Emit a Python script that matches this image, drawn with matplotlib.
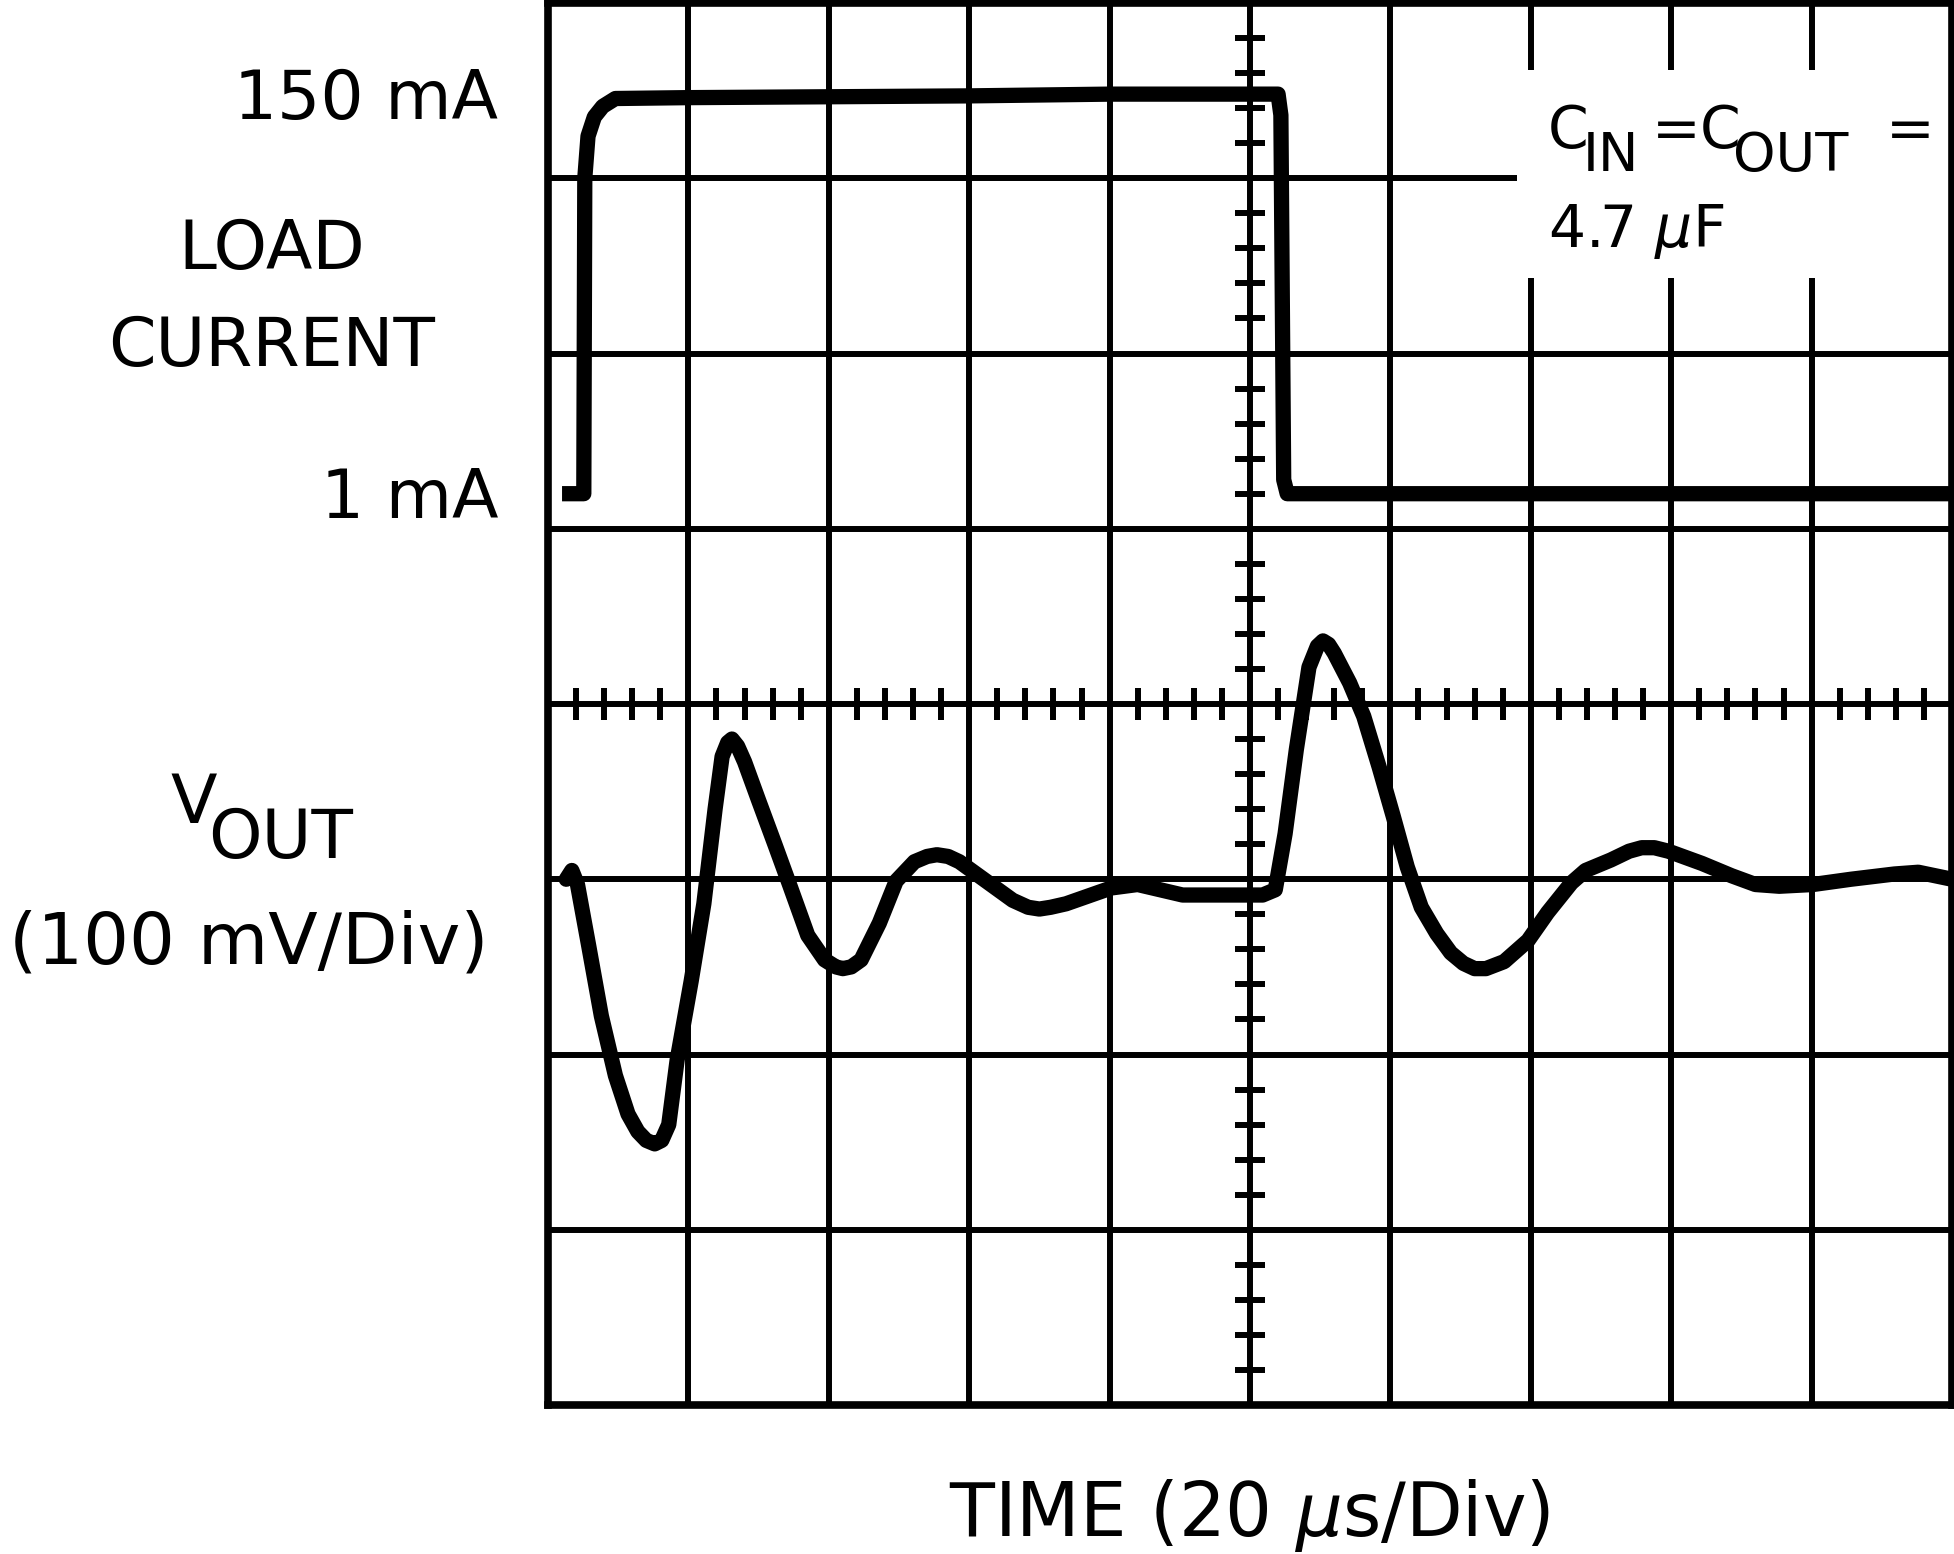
import matplotlib.pyplot as plt
import numpy as np
from matplotlib.patches import Rectangle

plt.rcParams['font.family'] = ['DejaVu Sans']
plt.rcParams['mathtext.fontset'] = 'dejavusans'

# load current trace (screen divisions)
load_t = [0.10, 0.255, 0.262, 0.285, 0.33, 0.39, 0.48, 1.0, 2.0, 3.0, 4.0, 5.20, 5.22, 5.24, 5.265, 10.0]
load_y = [5.20, 5.20, 7.00, 7.24, 7.35, 7.41, 7.455, 7.46, 7.465, 7.47, 7.48, 7.48, 7.36, 5.28, 5.20, 5.20]

# output voltage trace (screen divisions)
vout_t = [0.13, 0.17, 0.21, 0.29, 0.38, 0.48, 0.57, 0.64, 0.70, 0.76, 0.81, 0.86, 0.92, 1.02,
          1.11, 1.19, 1.24, 1.28, 1.31, 1.35, 1.40, 1.50, 1.62, 1.72, 1.85, 1.97, 2.05,
          2.10, 2.16, 2.23, 2.36, 2.48, 2.61, 2.70, 2.77, 2.85, 2.93, 3.12, 3.31, 3.42,
          3.50, 3.58, 3.69, 4.01, 4.20, 4.52, 4.90, 5.09, 5.18, 5.25, 5.33, 5.42, 5.48,
          5.52, 5.56, 5.60, 5.71, 5.81, 5.92, 6.02, 6.12, 6.22, 6.33, 6.43, 6.52, 6.60,
          6.68, 6.81, 6.98, 7.12, 7.29, 7.39, 7.57, 7.70, 7.79, 7.88, 7.98, 8.22, 8.43,
          8.60, 8.77, 9.01, 9.28, 9.59, 9.76, 10.0]
vout_y = [3.00, 3.05, 2.97, 2.62, 2.22, 1.88, 1.66, 1.56, 1.51, 1.49, 1.51, 1.60, 1.97, 2.42,
          2.86, 3.40, 3.70, 3.78, 3.80, 3.76, 3.67, 3.45, 3.19, 2.97, 2.68, 2.54, 2.50,
          2.49, 2.50, 2.54, 2.75, 2.99, 3.10, 3.13, 3.14, 3.13, 3.10, 2.99, 2.88, 2.84,
          2.83, 2.84, 2.86, 2.95, 2.97, 2.91, 2.91, 2.91, 2.94, 3.26, 3.74, 4.21, 4.33,
          4.36, 4.34, 4.29, 4.12, 3.93, 3.64, 3.36, 3.07, 2.84, 2.69, 2.58, 2.52, 2.49,
          2.49, 2.53, 2.65, 2.81, 2.98, 3.05, 3.11, 3.16, 3.18, 3.18, 3.16, 3.09, 3.02,
          2.97, 2.96, 2.97, 3.00, 3.03, 3.04, 3.00]

fig = plt.figure(figsize=(19.54, 15.54), dpi=100)
ax = fig.add_axes([548 / 1954, 149 / 1554, 1404 / 1954, 1402 / 1554])
ax.set_xlim(0, 10)
ax.set_ylim(0, 8)
ax.set_xticks([])
ax.set_yticks([])
for s in ax.spines.values():
    s.set_linewidth(5.5)

# graticule
for gx in range(1, 10):
    ax.axvline(gx, color='black', lw=4.3, zorder=1)
for gy in range(1, 8):
    ax.axhline(gy, color='black', lw=4.3, zorder=1)

# small ticks on the centre lines
yt = [v for v in np.arange(0.2, 8, 0.2) if abs(v - round(v)) > 0.05]
xt = [v for v in np.arange(0.2, 10, 0.2) if abs(v - round(v)) > 0.05]
ax.hlines(yt, 5 - 0.107, 5 + 0.107, color='black', lw=4.3, zorder=1)
ax.vlines(xt, 4 - 0.09, 4 + 0.09, color='black', lw=4.3, zorder=1)

# blank area behind the note
ax.add_patch(Rectangle((6.9, 6.43), 3.1, 1.19, facecolor='white', edgecolor='none', zorder=1.5))

ax.plot(load_t, load_y, color='black', lw=11, solid_joinstyle='round', solid_capstyle='butt', zorder=3)
ax.plot(vout_t, vout_y, color='black', lw=11, solid_joinstyle='round', solid_capstyle='round', zorder=3)

# note
fs_note = 42
ax.text(7.12, 7.175, 'C', fontsize=fs_note, va='baseline', ha='left')
ax.text(7.37, 7.04, 'IN', fontsize=39, va='baseline', ha='left')
ax.text(7.86, 7.175, '=', fontsize=fs_note, va='baseline', ha='left')
ax.text(8.20, 7.175, 'C', fontsize=fs_note, va='baseline', ha='left')
ax.text(8.44, 7.04, 'OUT', fontsize=39, va='baseline', ha='left')
ax.text(9.53, 7.175, '=', fontsize=fs_note, va='baseline', ha='left')
ax.text(7.12, 6.61, r'4.7 $\mu$F', fontsize=fs_note, va='baseline', ha='left')

# left labels
fs = 49
kw = dict(fontsize=fs, va='baseline', clip_on=False)
ax.text(-0.355, 7.34, '150 mA', ha='right', **kw)
ax.text(-1.97, 6.485, 'LOAD', ha='center', **kw)
ax.text(-1.97, 5.93, 'CURRENT', ha='center', **kw)
ax.text(-0.355, 5.06, '1 mA', ha='right', **kw)
ax.text(-2.69, 3.32, 'V', ha='left', **kw)
ax.text(-2.42, 3.12, 'OUT', ha='left', **kw)
ax.text(-2.13, 2.52, '(100 mV/Div)', ha='center', fontsize=52, va='baseline', clip_on=False)

ax.text(5, -0.746, r'TIME (20 $\mu$s/Div)', fontsize=53, ha='center', va='baseline', clip_on=False)

plt.savefig('out.png', dpi=100)
